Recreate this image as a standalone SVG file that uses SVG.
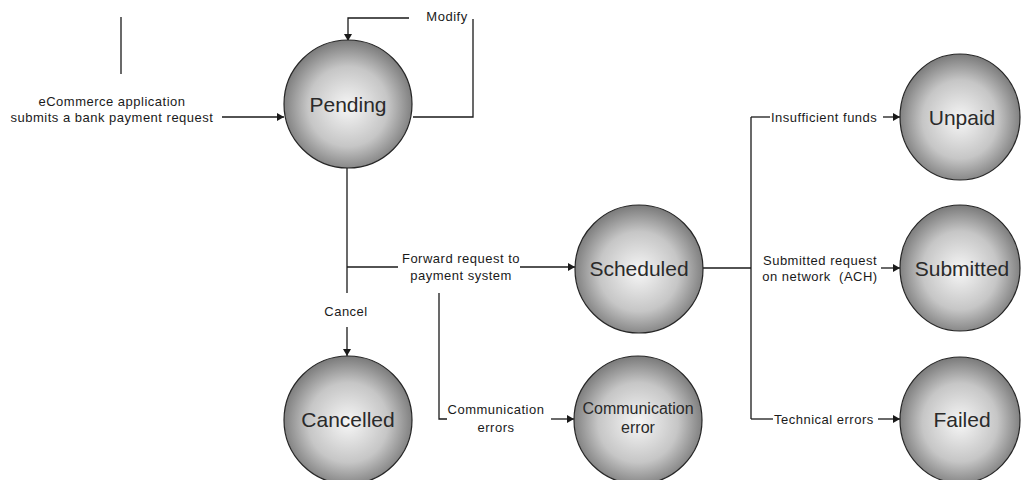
<svg xmlns="http://www.w3.org/2000/svg" width="1021" height="480" viewBox="0 0 1021 480">
<style>
.node{stroke:#262626;stroke-width:1.2;fill:url(#g)}
.nt{font-family:"Liberation Sans",Arial,sans-serif;font-size:21px;fill:#2a2a2a;text-anchor:middle}
.nts{font-family:"Liberation Sans",Arial,sans-serif;font-size:16px;fill:#2a2a2a;text-anchor:middle}
.lbl{font-family:"Liberation Sans",Arial,sans-serif;font-size:13px;letter-spacing:0.5px;fill:#1a1a1a}
.c{stroke:#1a1a1a;stroke-width:1.3;fill:none}
.a{marker-end:url(#ah)}
</style>
<defs>
<radialGradient id="g" cx="50%" cy="52%" r="52%">
<stop offset="0" stop-color="#f6f6f6"/>
<stop offset="0.6" stop-color="#c6c6c6"/>
<stop offset="1" stop-color="#7a7a7a"/>
</radialGradient>
<marker id="ah" markerUnits="userSpaceOnUse" markerWidth="8" markerHeight="8" refX="7" refY="4" orient="auto">
<path d="M0,0 L7,4 L0,8 z" fill="#1a1a1a"/>
</marker>
</defs>
<rect width="1021" height="480" fill="#ffffff"/>
<g id="connectors">
<line class="c" x1="121" y1="17" x2="121" y2="74"/>
<path class="c a" d="M222,117 H284"/>
<path class="c" d="M413,117 H473 V19"/>
<path class="c a" d="M409,18 H348 V41"/>
<path class="c" d="M347,168 V293"/>
<path class="c" d="M347,267 H398"/>
<path class="c a" d="M520,267 H575"/>
<path class="c a" d="M347,327 V356"/>
<path class="c" d="M439,293 V419 H447"/>
<path class="c a" d="M551,419 H574"/>
<path class="c" d="M703,268 H751"/>
<path class="c" d="M751,117 V419"/>
<path class="c" d="M751,117 H770"/>
<path class="c a" d="M883,117 H900"/>
<path class="c a" d="M881,268 H900"/>
<path class="c" d="M751,419 H773"/>
<path class="c a" d="M878,419 H900"/>
<g class="lbl">
<text x="112" y="106" text-anchor="middle">eCommerce application</text>
<text x="112" y="122" text-anchor="middle">submits a bank payment request</text>
<text x="447" y="21" text-anchor="middle">Modify</text>
<text x="461" y="263" text-anchor="middle">Forward request to</text>
<text x="461" y="280" text-anchor="middle">payment system</text>
<text x="346" y="316" text-anchor="middle">Cancel</text>
<text x="496" y="414" text-anchor="middle">Communication</text>
<text x="496" y="432" text-anchor="middle">errors</text>
<text x="771" y="122">Insufficient funds</text>
<text x="820" y="265" text-anchor="middle">Submitted request</text>
<text x="820" y="281" text-anchor="middle">on network&#160; (ACH)</text>
<text x="774" y="424">Technical errors</text>
</g>
</g>
<g id="pending"><circle class="node" cx="348" cy="104" r="64"/><text class="nt" x="348" y="112">Pending</text></g>
<g id="cancelled"><circle class="node" cx="348" cy="420" r="64"/><text class="nt" x="348" y="427">Cancelled</text></g>
<g id="scheduled"><circle class="node" cx="639" cy="269" r="64"/><text class="nt" x="639" y="276">Scheduled</text></g>
<g id="commerror"><circle class="node" cx="638" cy="420" r="64"/><text class="nts" x="638" y="414">Communication</text><text class="nts" x="638" y="433">error</text></g>
<g id="unpaid"><ellipse class="node" cx="960" cy="117" rx="60" ry="63"/><text class="nt" x="962" y="125">Unpaid</text></g>
<g id="submitted"><ellipse class="node" cx="960" cy="268" rx="60" ry="63"/><text class="nt" x="962" y="276">Submitted</text></g>
<g id="failed"><ellipse class="node" cx="960" cy="420" rx="60" ry="63"/><text class="nt" x="962" y="427">Failed</text></g>
</svg>
